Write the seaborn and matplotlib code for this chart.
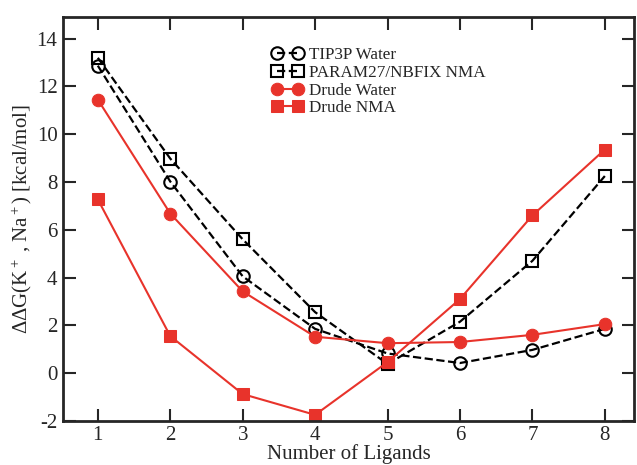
import numpy as np
import pandas as pd
import matplotlib
matplotlib.use("Agg")
import matplotlib.pyplot as plt
import seaborn as sns

# data
ligands = [1, 2, 3, 4, 5, 6, 7, 8]
tip3p_water = [12.87, 8.02, 4.05, 1.85, 0.82, 0.42, 0.97, 1.85]
param27_nma = [13.2, 8.98, 5.6, 2.55, 0.38, 2.15, 4.7, 8.25]
drude_water = [11.45, 6.68, 3.42, 1.52, 1.25, 1.3, 1.6, 2.05]
drude_nma = [7.27, 1.55, -0.88, -1.75, 0.46, 3.1, 6.6, 9.36]

sns.set_style("ticks")
plt.rcParams['font.family'] = ['Liberation Serif', 'DejaVu Serif']
plt.rcParams['mathtext.fontset'] = 'custom'
plt.rcParams['mathtext.rm'] = 'Liberation Serif'
plt.rcParams['mathtext.it'] = 'Liberation Serif:italic'
plt.rcParams['axes.unicode_minus'] = False

red = '#e8332b'
fig = plt.figure(figsize=(6.37, 4.65), dpi=100)
ax = fig.add_axes([0.099, 0.095, 0.896, 0.868])

sns.lineplot(x=ligands, y=tip3p_water, ax=ax, color='black', linestyle='--', lw=1.6,
             marker='o', markersize=9, markerfacecolor='none', markeredgecolor='black',
             markeredgewidth=1.5, label='TIP3P Water')
sns.lineplot(x=ligands, y=param27_nma, ax=ax, color='black', linestyle='--', lw=1.6,
             marker='s', markersize=8.5, markerfacecolor='none', markeredgecolor='black',
             markeredgewidth=1.5, label='PARAM27/NBFIX NMA')
sns.lineplot(x=ligands, y=drude_water, ax=ax, color=red, lw=1.5,
             marker='o', markersize=9, markeredgecolor=red, label='Drude Water')
sns.lineplot(x=ligands, y=drude_nma, ax=ax, color=red, lw=1.5,
             marker='s', markersize=8, markeredgecolor=red, label='Drude NMA')

ax.set_xlim(0.52, 8.4)
ax.set_ylim(-2, 14.9)
ax.set_xticks(ligands)
ax.set_yticks(np.arange(-2, 15, 2))
ax.tick_params(direction='in', length=9, width=1.5, labelsize=15, top=True, right=True,
               pad=4)
for s in ax.spines.values():
    s.set_linewidth(2)
ax.set_xlabel('Number of Ligands', fontsize=15, labelpad=-1)
ax.set_ylabel(r'$\Delta\Delta$G(K$^+$ , Na$^+$) [kcal/mol]', fontsize=15, labelpad=2)

ax.legend(loc='upper left', bbox_to_anchor=(0.345, 0.955), frameon=False, numpoints=2,
          fontsize=12.3, handlelength=1.8, handletextpad=0.35, labelspacing=0.1,
          borderpad=0.2)

fig.savefig('out.png', dpi=100)
